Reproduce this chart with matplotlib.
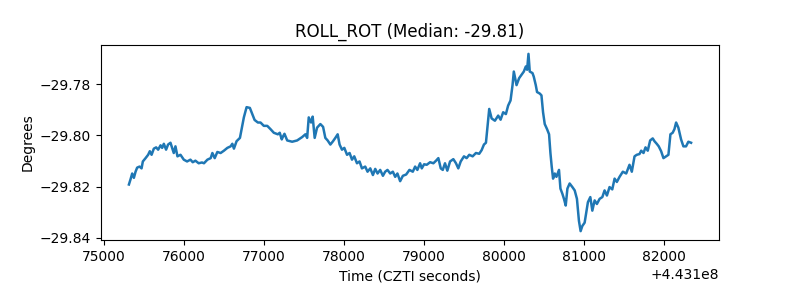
import numpy as np
import matplotlib
matplotlib.use("Agg")
import matplotlib.pyplot as plt

# CZTI time base (seconds) and offsets
t_base = 443100000
t_rel = [
    75315, 75336, 75356, 75377, 75398, 75418, 75448, 75473, 75489, 75523,
    75555, 75576, 75598, 75626, 75655, 75680, 75710, 75730, 75751, 75779,
    75804, 75834, 75854, 75875, 75896, 75921, 75959, 76000, 76041, 76083,
    76112, 76145, 76186, 76227, 76252, 76295, 76336, 76357, 76386, 76419,
    76460, 76501, 76544, 76585, 76606, 76626, 76659, 76701, 76718, 76750,
    76784, 76825, 76855, 76884, 76925, 76958, 76999, 77042, 77083, 77124,
    77174, 77198, 77223, 77241, 77257, 77291, 77353, 77415, 77477, 77518,
    77540, 77560, 77589, 77609, 77634, 77664, 77705, 77739, 77767, 77796,
    77830, 77863, 77892, 77921, 77945, 77975, 78004, 78038, 78070, 78100,
    78128, 78162, 78194, 78224, 78265, 78294, 78328, 78361, 78390, 78419,
    78452, 78486, 78514, 78543, 78577, 78610, 78639, 78667, 78701, 78735,
    78776, 78817, 78859, 78888, 78916, 78950, 78971, 79000, 79033, 79075,
    79116, 79149, 79178, 79208, 79233, 79261, 79290, 79324, 79365, 79398,
    79427, 79457, 79498, 79531, 79564, 79606, 79647, 79688, 79718, 79747,
    79772, 79788, 79813, 79843, 79884, 79925, 79955, 79987, 80021, 80049,
    80079, 80104, 80120, 80154, 80186, 80216, 80245, 80270, 80286, 80303,
    80319, 80353, 80369, 80394, 80410, 80444, 80465, 80485, 80506, 80535,
    80560, 80577, 80593, 80610, 80631, 80652, 80684, 80702, 80726, 80746,
    80768, 80789, 80817, 80851, 80880, 80908, 80933, 80954, 80975, 81004,
    81025, 81045, 81075, 81100, 81129, 81157, 81191, 81225, 81253, 81282,
    81315, 81349, 81378, 81406, 81440, 81481, 81523, 81564, 81593, 81627,
    81655, 81689, 81710, 81739, 81764, 81792, 81822, 81854, 81876, 81904,
    81929, 81959, 81988, 82021, 82050, 82075, 82103, 82125, 82146, 82174,
    82208, 82237, 82270, 82299, 82333,
]
roll_rot = [
    -29.8192, -29.8171, -29.8149, -29.8166, -29.8142, -29.8126, -29.8122, -29.8129, -29.8102, -29.8089,
    -29.8076, -29.8062, -29.8076, -29.8052, -29.8047, -29.8056, -29.8039, -29.8049, -29.8033, -29.8056,
    -29.8036, -29.8029, -29.8049, -29.8069, -29.8043, -29.8082, -29.8076, -29.8095, -29.8102, -29.8095,
    -29.8105, -29.8099, -29.8109, -29.8106, -29.8109, -29.8095, -29.8089, -29.8069, -29.8089, -29.8065,
    -29.8069, -29.8060, -29.8049, -29.8043, -29.8033, -29.8052, -29.8023, -29.8010, -29.7983, -29.7930,
    -29.7890, -29.7893, -29.7917, -29.7940, -29.7950, -29.7950, -29.7963, -29.7963, -29.7976, -29.7990,
    -29.7996, -29.7990, -29.8016, -29.8003, -29.7994, -29.8020, -29.8025, -29.8020, -29.8007, -29.7996,
    -29.8010, -29.7930, -29.7950, -29.7927, -29.8010, -29.7970, -29.7956, -29.7967, -29.8010, -29.8020,
    -29.8036, -29.8023, -29.8010, -29.7996, -29.8036, -29.8056, -29.8049, -29.8076, -29.8069, -29.8095,
    -29.8082, -29.8109, -29.8102, -29.8129, -29.8122, -29.8142, -29.8129, -29.8155, -29.8131, -29.8149,
    -29.8135, -29.8158, -29.8142, -29.8135, -29.8149, -29.8142, -29.8162, -29.8149, -29.8179, -29.8158,
    -29.8153, -29.8135, -29.8142, -29.8122, -29.8135, -29.8109, -29.8129, -29.8113, -29.8115, -29.8105,
    -29.8109, -29.8099, -29.8089, -29.8129, -29.8135, -29.8109, -29.8138, -29.8102, -29.8093, -29.8109,
    -29.8129, -29.8102, -29.8082, -29.8089, -29.8076, -29.8082, -29.8069, -29.8072, -29.8058, -29.8036,
    -29.8029, -29.7976, -29.7897, -29.7934, -29.7943, -29.7923, -29.7939, -29.7910, -29.7917, -29.7884,
    -29.7864, -29.7804, -29.7751, -29.7804, -29.7777, -29.7764, -29.7751, -29.7731, -29.7744, -29.7682,
    -29.7751, -29.7757, -29.7771, -29.7804, -29.7831, -29.7837, -29.7844, -29.7910, -29.7956, -29.7976,
    -29.7996, -29.8069, -29.8122, -29.8169, -29.8149, -29.8162, -29.8135, -29.8208, -29.8228, -29.8248,
    -29.8274, -29.8208, -29.8188, -29.8202, -29.8215, -29.8248, -29.8334, -29.8374, -29.8354, -29.8341,
    -29.8301, -29.8261, -29.8241, -29.8294, -29.8254, -29.8268, -29.8248, -29.8241, -29.8215, -29.8235,
    -29.8202, -29.8211, -29.8169, -29.8182, -29.8162, -29.8142, -29.8149, -29.8115, -29.8142, -29.8082,
    -29.8076, -29.8073, -29.8060, -29.8069, -29.8047, -29.8060, -29.8020, -29.8012, -29.8023, -29.8033,
    -29.8043, -29.8062, -29.8089, -29.8082, -29.8076, -29.7996, -29.7990, -29.7976, -29.7950, -29.7970,
    -29.8016, -29.8043, -29.8043, -29.8025, -29.8029,
]

times = np.array(t_rel, dtype=float) + t_base

fig, ax = plt.subplots(figsize=(8, 3), dpi=100)
fig.subplots_adjust(left=0.126, right=0.899, top=0.85, bottom=0.2)

ax.plot(times, roll_rot, color="#1f77b4", linewidth=1.8)
ax.set_title("ROLL_ROT (Median: -29.81)")
ax.set_xlabel("Time (CZTI seconds)")
ax.set_ylabel("Degrees")
ax.set_yticks([-29.84, -29.82, -29.80, -29.78])

fig.savefig("out.png", dpi=100)
